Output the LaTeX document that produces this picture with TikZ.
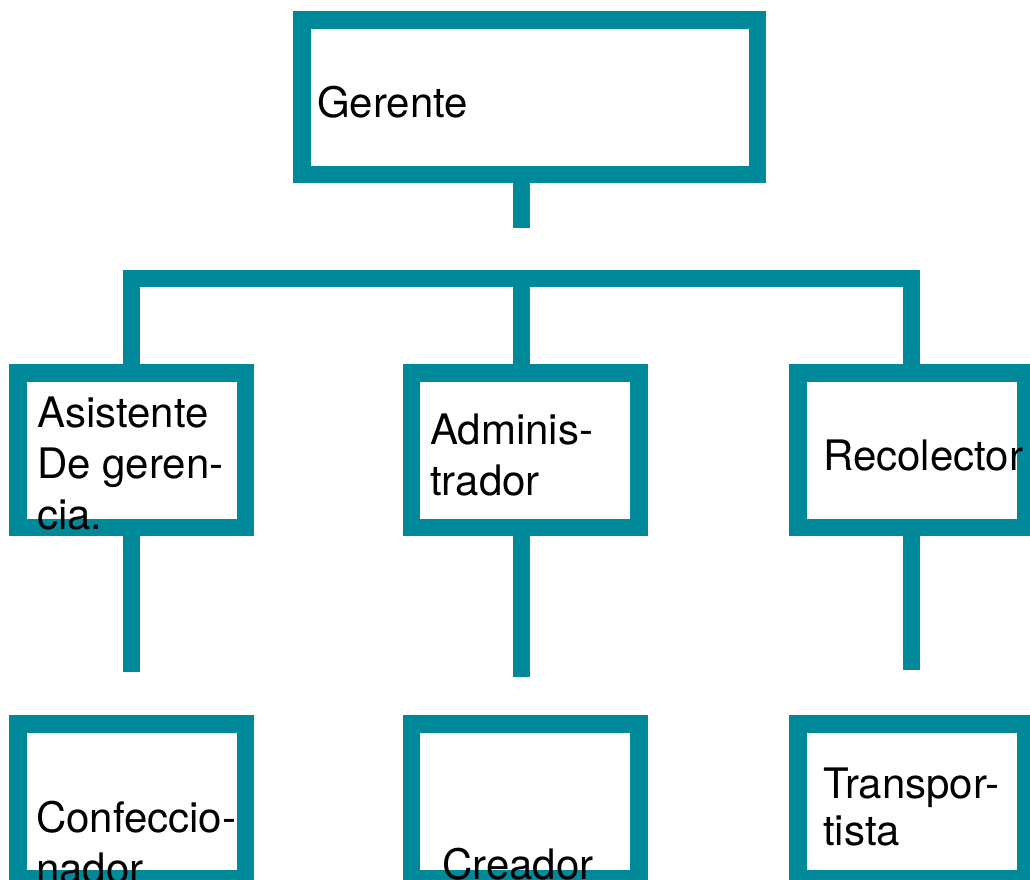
\documentclass[tikz,border=0pt]{standalone}
\usepackage{fontspec}
\setmainfont{TeX Gyre Heros}
\usepackage{tikz}
\usepackage{xcolor}
\definecolor{chart-teal}{RGB}{0,138,153}
\tikzset{
    org-box/.style = {draw=chart-teal, line width=17.5pt, rectangle, minimum width=227.5pt, minimum height=154.5pt, inner sep=0pt},
    org-line/.style = {draw=chart-teal, line width=17pt, line join=miter},
    org-label/.style = {anchor=base west, inner sep=0pt, align=left, font=\fontsize{42}{51}\selectfont},
}

\begin{document}
\begin{tikzpicture}[x=1pt, y=-1pt]
\useasboundingbox (0,0) rectangle (1030,879);
\clip (0,0) rectangle (1030,879);

% boxes
\node [org-box, minimum width=455.5pt] (gerente) at (529.5,97) {};
\node [org-box] (asistente) at (131.5,450) {};
\node [org-box] (admin) at (525,450) {};
\node [org-box] (recolector) at (911.5,450) {};
\node [org-box] (confec) at (131.5,801) {};
\node [org-box] (creador) at (525,801) {};
\node [org-box] (transp) at (911.5,801) {};

% connectors
\coordinate (stem-end) at (521.5,228);
\coordinate (bar-y) at (0,278.5);
\coordinate (asistente-end) at (131.5,672);
\coordinate (admin-end) at (521.5,677);
\coordinate (recolector-end) at (911.5,670);
\draw [org-line] (gerente.south -| stem-end) -- (stem-end);
\draw [org-line] (asistente.north) -- (asistente.north |- bar-y) -- (recolector.north |- bar-y) -- (recolector.north);
\draw [org-line] (admin.north -| stem-end) -- (stem-end |- bar-y);
\draw [org-line] (asistente.south) -- (asistente-end);
\draw [org-line] (admin.south -| admin-end) -- (admin-end);
\draw [org-line] (recolector.south) -- (recolector-end);

% labels (base = last line)
\node [org-label] (gerente-text) at (317,117) {Gerente};
\node [org-label] (asistente-text) at (37,529) {Asistente\\De geren-\\cia.};
\node [org-label] (admin-text) at (430,495) {Adminis-\\trador};
\node [org-label] (recolector-text) at (823,470) {Recolector};
\node [org-label] (confec-text) at (36,883) {Confeccio-\\nador};
\node [org-label] (creador-text) at (442,879) {Creador};
\node [org-label, font=\fontsize{42}{47}\selectfont] (transp-text) at (823,845) {Transpor-\\tista};
\end{tikzpicture}
\end{document}
